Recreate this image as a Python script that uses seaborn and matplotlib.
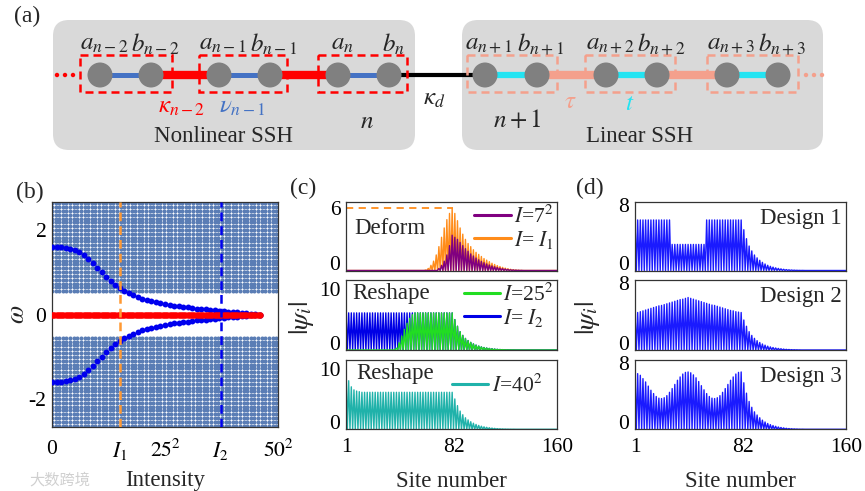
import numpy as np
import pandas as pd
import matplotlib
matplotlib.use('Agg')
import matplotlib.pyplot as plt
import seaborn as sns
from matplotlib.patches import FancyBboxPatch, Rectangle, Circle
from matplotlib.lines import Line2D

sns.set_style('white')
plt.rcParams['font.family'] = ['Liberation Serif', 'DejaVu Serif']
plt.rcParams['mathtext.fontset'] = 'stix'

# ---------------- data ----------------
# (b) spectrum vs intensity; x axis is sqrt(I) (0 .. 50)
I1_amp = 15
I2_amp = 37.3
edge_amp = list(range(0, 47))
edge_upper = [1.58, 1.58, 1.58, 1.57, 1.55, 1.52, 1.47, 1.40, 1.31, 1.21,
              1.10, 0.99, 0.89, 0.79, 0.70, 0.62, 0.56, 0.50, 0.45, 0.41,
              0.37, 0.34, 0.31, 0.29, 0.27, 0.25, 0.23, 0.21, 0.19, 0.18,
              0.17, 0.15, 0.14, 0.13, 0.12, 0.11, 0.10, 0.09, 0.08, 0.07,
              0.06, 0.05, 0.04, 0.03, 0.02, 0.01, 0.0]
zero_amp = np.arange(0, 46.5, 0.5)
upper_levels = [0.55, 0.64, 0.73, 0.82, 0.91, 1.00, 1.09, 1.18, 1.27, 1.36,
                1.45, 1.54, 1.63, 1.72, 1.81, 1.90, 1.99, 2.08, 2.17, 2.26,
                2.35, 2.44, 2.53, 2.62]
bulk_amp = np.arange(0, 50.5, 0.8)

# (c)/(d) |psi| on the strong sublattice, one value per unit cell (80 cells)
tail_61 = [5.0, 3.9, 3.0, 2.4, 1.9, 1.55, 1.25, 1.0, 0.8, 0.64, 0.51, 0.41,
           0.33, 0.26, 0.2, 0.15, 0.11, 0.08, 0.06, 0.04, 0.025, 0.015, 0.01] + [0.0] * 16
tail_45 = [3.6, 2.85, 2.2, 1.75, 1.4, 1.12, 0.9, 0.72, 0.58, 0.46, 0.37, 0.3,
           0.24, 0.19, 0.15, 0.11, 0.08, 0.06, 0.04, 0.03, 0.02, 0.01, 0.005] + [0.0] * 16
tail_69 = [5.6, 4.35, 3.35, 2.65, 2.1, 1.72, 1.39, 1.1, 0.88, 0.7, 0.56, 0.45,
           0.36, 0.28, 0.22, 0.17, 0.12, 0.09, 0.065, 0.045, 0.03, 0.015, 0.01] + [0.0] * 16

psi_I7 = [0.0] * 35 + [0.2, 0.5, 0.9, 1.5, 2.4, 3.4] + \
    [3.2, 3.0, 2.7, 2.4, 2.1, 1.85, 1.6, 1.4, 1.2, 1.03, 0.88, 0.75, 0.63,
     0.53, 0.44, 0.36, 0.29, 0.23, 0.18, 0.14, 0.1, 0.07, 0.05, 0.03, 0.02, 0.01] + [0.0] * 13
psi_I1 = [0.0] * 30 + [0.05, 0.2, 0.5, 0.9, 1.5, 2.3, 3.2, 4.1, 4.9, 5.5, 6.0] + \
    [5.5, 4.8, 4.1, 3.5, 3.0, 2.6, 2.3, 2.0, 1.75, 1.55, 1.35, 1.15, 1.0,
     0.85, 0.7, 0.58, 0.47, 0.38, 0.3, 0.23, 0.17, 0.12, 0.08, 0.05, 0.03, 0.015] + [0.0] * 13
psi_I625 = [0.0] * 19 + [0.3, 1.2, 2.3, 3.4, 4.4, 5.2, 5.8] + [6.1] * 15 + tail_61
psi_I2 = [6.1] * 41 + tail_61
psi_I1600 = [9.8, 8.0, 7.0, 6.5, 6.3, 6.2] + [6.1] * 35 + tail_61

design1 = [6.2] * 14 + [3.2] * 13 + [6.2] * 14 + tail_61
design2 = [4.4, 4.5, 4.6, 4.7, 4.8, 4.9, 5.0, 5.1, 5.2, 5.3, 5.35, 5.45, 5.55, 5.65,
           5.75, 5.85, 5.95, 6.05, 6.1, 6.2, 6.3,
           6.2, 6.1, 6.0, 5.9, 5.8, 5.7, 5.6, 5.5, 5.4, 5.35, 5.25, 5.15, 5.05, 4.95,
           4.85, 4.75, 4.7, 4.6, 4.55, 4.5] + tail_45
design3 = [6.8, 6.7, 6.5, 6.1, 5.7, 5.2, 4.7, 4.3, 3.95, 3.75, 3.7, 3.8, 4.05, 4.45,
           4.9, 5.4, 5.9, 6.3, 6.65, 6.85, 6.9, 6.8, 6.55, 6.2, 5.75, 5.25, 4.75,
           4.3, 3.95, 3.75, 3.7, 3.8, 4.05, 4.45, 4.9, 5.4, 5.9, 6.3, 6.65, 6.85, 6.9] + tail_69

sites = np.arange(1, 161)


def to_sites(env):
    psi = np.zeros(2 * len(env))
    psi[0::2] = env
    return psi


W, H = 865, 491
fig = plt.figure(figsize=(8.65, 4.91), dpi=100)


def box(x0, y0, x1, y1):
    return [x0 / W, 1 - y1 / H, (x1 - x0) / W, (y1 - y0) / H]


# ---------------- (a) schematic ----------------
ax_a = fig.add_axes([0, 1 - 165 / H, 1, 165 / H])
ax_a.set_xlim(0, W)
ax_a.set_ylim(165, 0)
ax_a.axis('off')

c_red, c_blue, c_cyan, c_salmon = '#ff0000', '#4472c4', '#22e4f2', '#f4a08c'
for x0, x1 in [(53, 415), (462, 823)]:
    ax_a.add_patch(FancyBboxPatch((x0, 20), x1 - x0, 130, boxstyle='round,pad=0,rounding_size=16',
                                  fc='#d9d9d9', ec='none', zorder=0))

yc = 75
left_a, left_b = [100, 219, 338], [151, 270, 389]
right_a, right_b = [485, 606, 727], [537, 657, 778]
for i in range(3):
    ax_a.plot([left_a[i], left_b[i]], [yc, yc], color=c_blue, lw=3.6, solid_capstyle='butt', zorder=1)
    ax_a.plot([right_a[i], right_b[i]], [yc, yc], color=c_cyan, lw=4.5, solid_capstyle='butt', zorder=1)
    if i < 2:
        ax_a.plot([left_b[i], left_a[i + 1]], [yc, yc], color=c_red, lw=6, solid_capstyle='butt', zorder=1)
        ax_a.plot([right_b[i], right_a[i + 1]], [yc, yc], color=c_salmon, lw=6, solid_capstyle='butt', zorder=1)
ax_a.plot([389, 485], [yc, yc], color='black', lw=3, zorder=1)

for x0, x1 in [(80, 172), (199, 287), (318, 407)]:
    ax_a.add_patch(Rectangle((x0, 55), x1 - x0, 37, fill=False, ec=c_red, lw=1.8,
                             ls=(0, (3.2, 2)), zorder=2))
for x0, x1 in [(467, 557), (585, 675), (707, 798)]:
    ax_a.add_patch(Rectangle((x0, 55), x1 - x0, 37, fill=False, ec=c_salmon, lw=1.8,
                             ls=(0, (3.2, 2)), zorder=2))
for x in left_a + left_b + right_a + right_b:
    ax_a.add_patch(Circle((x, yc), 12.5, fc='#808080', ec='none', zorder=3))
for x in [57, 65, 73]:
    ax_a.add_patch(Circle((x, yc), 2.2, fc=c_red, ec='none', zorder=3))
for x in [806, 814, 822]:
    ax_a.add_patch(Circle((x, yc), 2.2, fc=c_salmon, ec='none', zorder=3))

site_labels = [r'$a_{n-2}$', r'$b_{n-2}$', r'$a_{n-1}$', r'$b_{n-1}$', r'$a_n$', r'$b_n$',
               r'$a_{n+1}$', r'$b_{n+1}$', r'$a_{n+2}$', r'$b_{n+2}$', r'$a_{n+3}$', r'$b_{n+3}$']
site_x = [100, 151, 219, 270, 338, 389, 485, 537, 606, 657, 727, 778]
for lab, x in zip(site_labels, site_x):
    ax_a.text(x + 4, 44, lab, ha='center', va='center', fontsize=18)

ax_a.text(182, 107, r'$\kappa_{n-2}$', color=c_red, ha='center', va='center', fontsize=18)
ax_a.text(242, 107, r'$\nu_{n-1}$', color=c_blue, ha='center', va='center', fontsize=18)
ax_a.text(367, 122, r'$n$', ha='center', va='center', fontsize=18)
ax_a.text(223, 136, 'Nonlinear SSH', ha='center', va='center', fontsize=16.5)
ax_a.text(434, 99, r'$\kappa_d$', ha='center', va='center', fontsize=18)
ax_a.text(517, 121, r'$n+1$', ha='center', va='center', fontsize=18)
ax_a.text(570, 102, r'$\tau$', color=c_salmon, ha='center', va='center', fontsize=18)
ax_a.text(630, 104, r'$t$', color=c_cyan, ha='center', va='center', fontsize=18)
ax_a.text(640, 136, 'Linear SSH', ha='center', va='center', fontsize=16.5)
fig.text(27 / W, 1 - 16 / H, '(a)', ha='center', va='center', fontsize=17)

# ---------------- (b) spectrum ----------------
ax_b = fig.add_axes(box(52, 202, 278, 427))
bulk = pd.DataFrame([(a, s * lv) for a in bulk_amp for lv in upper_levels for s in (1, -1)],
                    columns=['amp', 'omega'])
sns.scatterplot(data=bulk, x='amp', y='omega', s=8.5, color='#5a7db5', linewidth=0, ax=ax_b, zorder=1)
sns.scatterplot(x=edge_amp, y=edge_upper, s=18, color='#0000ee', linewidth=0, ax=ax_b, zorder=3)
sns.scatterplot(x=edge_amp, y=[-v for v in edge_upper], s=18, color='#0000ee', linewidth=0, ax=ax_b, zorder=3)
sns.scatterplot(x=zero_amp, y=[0.0] * len(zero_amp), s=22, color='#ff0000', linewidth=0, ax=ax_b, zorder=4)
ax_b.axvline(I1_amp, color='#ff9933', lw=1.8, ls=(0, (3.5, 2)), zorder=5)
ax_b.axvline(I2_amp, color='#0000ee', lw=1.8, ls=(0, (3.5, 2)), zorder=5)
ax_b.set_xlim(0, 50)
ax_b.set_ylim(-2.65, 2.65)
ax_b.set_xticks([0, I1_amp, 25, I2_amp, 50])
ax_b.set_xticklabels(['0', r'$I_1$', r'$25^2$', r'$I_2$', r'$50^2$'])
ax_b.set_yticks([2, 0, -2])
ax_b.set_yticklabels(['2', '0', '-2'])
ax_b.set_xlabel('Intensity', fontsize=16.5, labelpad=6)
ax_b.set_ylabel(r'$\omega$', fontsize=19, labelpad=0)
fig.text(30 / W, 1 - 192 / H, '(b)', ha='center', va='center', fontsize=17)

# ---------------- (c) and (d) profiles ----------------
rows = [(202, 270.5), (280, 350), (359.5, 429.3)]
ax_c = [fig.add_axes(box(346, r0, 557, r1)) for r0, r1 in rows]
ax_d = [fig.add_axes(box(635, r0, 846, r1)) for r0, r1 in rows]

lw_p = 1.0
c_orange, c_purple, c_green, c_blue2, c_teal = '#ff8c1a', '#800080', '#22dd22', '#0000e6', '#20b2aa'
sns.lineplot(x=sites, y=to_sites(psi_I1), color=c_orange, lw=lw_p, ax=ax_c[0])
sns.lineplot(x=sites, y=to_sites(psi_I7), color=c_purple, lw=lw_p, ax=ax_c[0])
ax_c[0].plot([1, 82], [6.0, 6.0], color=c_orange, lw=1.3, ls=(0, (4, 3)), clip_on=False)
sns.lineplot(x=sites, y=to_sites(psi_I2), color=c_blue2, lw=lw_p, ax=ax_c[1])
sns.lineplot(x=sites, y=to_sites(psi_I625), color=c_green, lw=lw_p, ax=ax_c[1])
sns.lineplot(x=sites, y=to_sites(psi_I1600), color=c_teal, lw=lw_p, ax=ax_c[2])

for ax, d in zip(ax_d, [design1, design2, design3]):
    sns.lineplot(x=sites, y=to_sites(d), color='#1a1aff', lw=lw_p, ax=ax)

leg_kw = dict(loc='upper right', frameon=False, fontsize=15.5, handlelength=1.7, handletextpad=0.15,
              labelspacing=0.05, borderaxespad=0.05, borderpad=0.1)
ax_c[0].legend([Line2D([], [], color=c_purple, lw=2.2), Line2D([], [], color=c_orange, lw=2.2)],
               [r'$I$=7$^2$', r'$I$= $I_1$'], **leg_kw)
ax_c[1].legend([Line2D([], [], color=c_green, lw=2.2), Line2D([], [], color=c_blue2, lw=2.2)],
               [r'$I$=25$^2$', r'$I$= $I_2$'], **leg_kw)
ax_c[2].legend([Line2D([], [], color=c_teal, lw=2.2)], [r'$I$=40$^2$'],
               loc='upper right', frameon=False, fontsize=15.5, handlelength=1.7, handletextpad=0.15,
               borderaxespad=0.6, borderpad=0.1)

ax_c[0].text(0.04, 0.62, 'Deform', transform=ax_c[0].transAxes, ha='left', va='center', fontsize=16.5)
ax_c[1].text(0.03, 0.80, 'Reshape', transform=ax_c[1].transAxes, ha='left', va='center', fontsize=16.5)
ax_c[2].text(0.05, 0.80, 'Reshape', transform=ax_c[2].transAxes, ha='left', va='center', fontsize=16.5)
for ax, name in zip(ax_d, ['Design 1', 'Design 2', 'Design 3']):
    ax.text(0.98, 0.76, name, transform=ax.transAxes, ha='right', va='center', fontsize=16.5)

ax_c[0].set_ylim(0, 6.6)
ax_c[0].set_yticks([0, 6])
for ax in ax_c[1:]:
    ax.set_ylim(0, 11.5)
    ax.set_yticks([0, 10])
for ax in ax_d:
    ax.set_ylim(0, 8.4)
    ax.set_yticks([0, 8])

for ax in ax_c + ax_d:
    ax.set_xlim(1, 160)
    ax.set_xticks([1, 82, 160])
    ax.set_xlabel('')
    ax.set_ylabel('')
for ax in ax_c[:2] + ax_d[:2]:
    ax.set_xticklabels([])
ax_c[2].set_xlabel('Site number', fontsize=16.5, labelpad=10)
ax_d[2].set_xlabel('Site number', fontsize=16.5, labelpad=10)
fig.text(302 / W, 1 - 318 / H, r'$|\psi_i|$', rotation=90, ha='center', va='center', fontsize=20)
fig.text(587 / W, 1 - 318 / H, r'$|\psi_i|$', rotation=90, ha='center', va='center', fontsize=20)
fig.text(303 / W, 1 - 188 / H, '(c)', ha='center', va='center', fontsize=17)
fig.text(590 / W, 1 - 188 / H, '(d)', ha='center', va='center', fontsize=17)

for ax in [ax_b] + ax_c + ax_d:
    ax.tick_params(direction='in', length=3, width=0.8, labelsize=15.5, pad=4,
                   top=False, right=False, colors='#333333', labelcolor='black')
    for sp in ax.spines.values():
        sp.set_visible(True)
        sp.set_color('#333333')
        sp.set_linewidth(0.9)
ax_b.tick_params(axis='x', pad=9)
ax_c[2].tick_params(axis='x', pad=6)
ax_d[2].tick_params(axis='x', pad=6)

# the zero label sits on the bottom spine, as in the original
for ax in ax_c + ax_d:
    ax.get_yticklabels()[0].set_va('baseline')

fig.text(60 / W, 1 - 480 / H, '大数跨境', family=['Noto Sans CJK SC', 'DejaVu Sans'],
         color='#d0d0d0', fontsize=11, ha='center', va='center')

fig.savefig('out.png', dpi=100)
